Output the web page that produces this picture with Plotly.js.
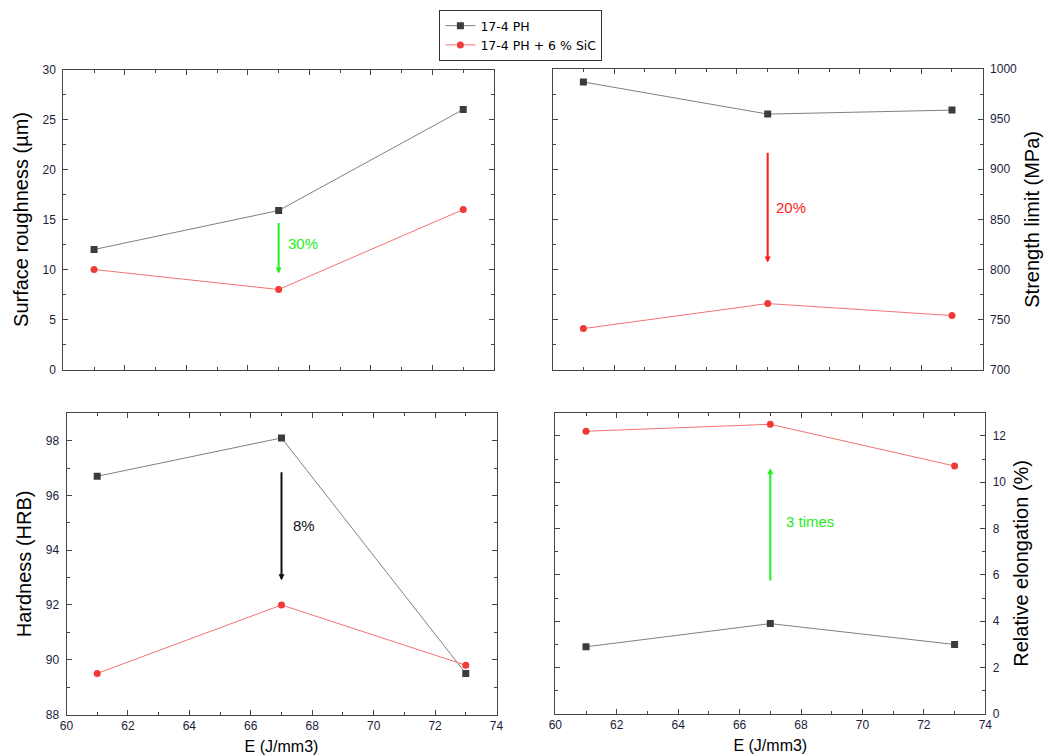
<!DOCTYPE html>
<html>
<head>
<meta charset="utf-8">
<script src="https://cdn.plot.ly/plotly-3.0.1.min.js"></script>
<style>html,body{margin:0;padding:0;background:#fff;}#chart{width:1044px;height:756px;}</style>
</head>
<body>
<div id="chart"></div>
<script>
// ---- data ----
const energy = [61, 67, 73];
const seriesNames = ['17-4 PH', '17-4 PH + 6 % SiC'];
const roughnessPH = [12, 15.9, 26];
const roughnessSiC = [10, 8, 16];
const strengthPH = [987, 955, 959];
const strengthSiC = [741, 766, 754];
const hardnessPH = [96.7, 98.1, 89.5];
const hardnessSiC = [89.5, 92.0, 89.8];
const elongationPH = [2.9, 3.9, 3.0];
const elongationSiC = [12.2, 12.5, 10.7];
const axisTitles = ['Surface roughness (µm)', 'Strength limit (MPa)', 'Hardness (HRB)', 'Relative elongation (%)', 'E (J/mm3)'];
const changeLabels = ['30%', '20%', '8%', '3 times'];
// arrows: [tail, head] values at E = 67
const arrowRough = [14.8, 9.6];
const arrowStrength = [918, 807];
const arrowHard = [96.9, 92.9];
const arrowElong = [5.7, 10.6];

// ---- styles ----
const FONT = 'Arial, "Liberation Sans", sans-serif';
const blackStyle = {line: {color: '#808080', width: 1}, marker: {symbol: 'square', size: 7, color: '#3c3c3c'}};
const redStyle = {line: {color: '#f27272', width: 1}, marker: {symbol: 'circle', size: 7, color: '#f03a3a'}};

function pair(xa, ya, yPH, ySiC, show) {
  return [
    Object.assign({x: energy, y: yPH, xaxis: xa, yaxis: ya, type: 'scatter', mode: 'lines+markers', name: seriesNames[0], showlegend: show, legendgroup: 'a'}, blackStyle),
    Object.assign({x: energy, y: ySiC, xaxis: xa, yaxis: ya, type: 'scatter', mode: 'lines+markers', name: seriesNames[1], showlegend: show, legendgroup: 'b'}, redStyle)
  ];
}
const data = [].concat(
  pair('x', 'y', roughnessPH, roughnessSiC, true),
  pair('x2', 'y2', strengthPH, strengthSiC, false),
  pair('x3', 'y3', hardnessPH, hardnessSiC, false),
  pair('x4', 'y4', elongationPH, elongationSiC, false)
);

const W = 1044, H = 756;
const px = (a, b) => [a / W, b / W];
const py = (top, bottom) => [1 - bottom / H, 1 - top / H];

function xax(dom, anchor, labels) {
  return {
    domain: dom, anchor: anchor, range: [60, 74], dtick: 2, tick0: 60,
    ticks: 'inside', ticklen: 5, tickcolor: '#444', mirror: 'ticks',
    showline: true, linecolor: '#444', linewidth: 1, showgrid: false, zeroline: false,
    showticklabels: labels, tickfont: {family: FONT, size: 12, color: '#1c1c3c'},
    minor: {ticks: 'inside', ticklen: 3, dtick: 1, tickcolor: '#444'},
    title: labels ? {text: axisTitles[4], font: {family: FONT, size: 16, color: '#000'}, standoff: 8} : {text: ''}
  };
}
function yax(dom, anchor, range, dtick, mdtick, side, title) {
  return {
    domain: dom, anchor: anchor, range: range, dtick: dtick, side: side,
    ticks: 'inside', ticklen: 5, tickcolor: '#444', mirror: 'ticks',
    showline: true, linecolor: '#444', linewidth: 1, showgrid: false, zeroline: false,
    tickfont: {family: FONT, size: 12, color: '#1c1c3c'}, ticklabelstandoff: 4,
    minor: {ticks: 'inside', ticklen: 3, dtick: mdtick, tickcolor: '#444'},
    title: {text: title, font: {family: FONT, size: 20, color: '#000'}, standoff: 8}
  };
}

function arrow(xa, ya, vals, color) {
  return {xref: xa, yref: ya, axref: xa, ayref: ya, x: 67, y: vals[1], ax: 67, ay: vals[0],
    text: '', showarrow: true, arrowhead: 2, arrowsize: 0.6, arrowwidth: 2, arrowcolor: color};
}
function label(xa, ya, xv, yv, text, color) {
  return {xref: xa, yref: ya, x: xv, y: yv, text: text, showarrow: false, xanchor: 'left', yanchor: 'middle',
    font: {family: FONT, size: 15, color: color}};
}

const layout = {
  width: W, height: H, margin: {l: 0, r: 0, t: 0, b: 0},
  paper_bgcolor: '#fff', plot_bgcolor: '#fff',
  font: {family: FONT},
  xaxis: xax(px(63.3, 494), 'y', false),
  yaxis: yax(py(69.5, 369.5), 'x', [0, 30], 5, 2.5, 'left', axisTitles[0]),
  xaxis2: xax(px(552.7, 982.7), 'y2', false),
  yaxis2: yax(py(69, 369.7), 'x2', [700, 1000], 50, 25, 'right', axisTitles[1]),
  xaxis3: xax(px(66.5, 496.5), 'y3', true),
  yaxis3: yax(py(413.3, 714.5), 'x3', [88, 99], 2, 1, 'left', axisTitles[2]),
  xaxis4: xax(px(555.3, 985.3), 'y4', true),
  yaxis4: yax(py(412.7, 714), 'x4', [0, 13], 2, 1, 'right', axisTitles[3]),
  legend: {x: 439.4 / W, y: 1 - 10 / H, xanchor: 'left', yanchor: 'top', bordercolor: '#333', borderwidth: 1,
    bgcolor: '#fff', font: {family: '"DejaVu Sans", sans-serif', size: 12.5, color: '#000'}, tracegroupgap: 0},
  annotations: [
    arrow('x', 'y', arrowRough, '#22ee22'),
    label('x', 'y', 67.25, 12.6, changeLabels[0], '#22ee22'),
    arrow('x2', 'y2', arrowStrength, '#ff1a1a'),
    label('x2', 'y2', 67.2, 862, changeLabels[1], '#ff1a1a'),
    arrow('x3', 'y3', arrowHard, '#111'),
    label('x3', 'y3', 67.3, 94.9, changeLabels[2], '#111'),
    arrow('x4', 'y4', arrowElong, '#22ee22'),
    label('x4', 'y4', 67.45, 8.3, changeLabels[3], '#22ee22')
  ]
};

Plotly.newPlot('chart', data, layout, {displayModeBar: false, staticPlot: true});
</script>
</body>
</html>
